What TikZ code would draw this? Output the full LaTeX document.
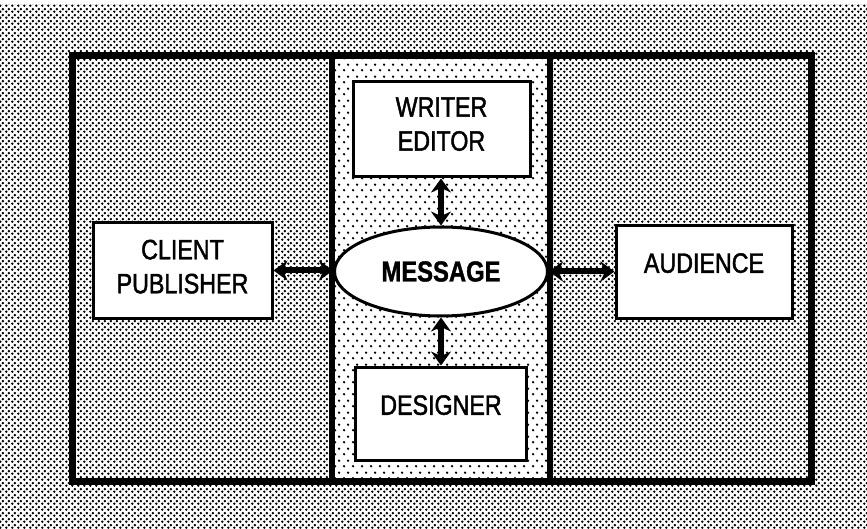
\documentclass[tikz,border=0pt]{standalone}
\usepackage{fontspec}
\setmainfont{Liberation Sans}[FakeStretch=0.83]
\newfontfamily\labelfont{Liberation Sans}[FakeStretch=0.83,FakeBold=1.6]
\newfontfamily\heavyfont{Liberation Sans Bold}[FakeStretch=0.82,FakeBold=1.2]
\usetikzlibrary{arrows.meta,shapes.geometric,patterns}

% staggered dot screens
\pgfdeclarepatternformonly{densedots}{\pgfpointorigin}{\pgfpoint{6pt}{6pt}}{\pgfpoint{6pt}{6pt}}{%
  \pgfpathcircle{\pgfpoint{1.5pt}{1.5pt}}{1.5pt}%
  \pgfpathcircle{\pgfpoint{4.5pt}{4.5pt}}{1.5pt}%
  \pgfusepath{fill}}
\pgfdeclarepatternformonly{sparsedots}{\pgfpointorigin}{\pgfpoint{9pt}{12pt}}{\pgfpoint{9pt}{12pt}}{%
  \pgfpathcircle{\pgfpoint{2.25pt}{3pt}}{1.4pt}%
  \pgfpathcircle{\pgfpoint{6.75pt}{9pt}}{1.4pt}%
  \pgfusepath{fill}}

\tikzset{
  box/.style={draw=black, line width=3pt, fill=white, rectangle, align=center,
    font=\labelfont\fontsize{28}{34}\selectfont, inner sep=0pt},
  msgshape/.style={draw=black, line width=3pt, fill=white, ellipse, inner sep=0pt,
    font=\heavyfont\fontsize{29}{35}\selectfont},
  link/.style={line width=6pt, {Stealth[length=14pt,width=20pt]}-{Stealth[length=14pt,width=20pt]}},
  frame/.style={line width=7pt, draw=black}
}

\begin{document}
\begin{tikzpicture}[x=1pt,y=-1pt]
  \useasboundingbox (0,0) rectangle (867,529);
  % background screens
  \fill[white] (0,0) rectangle (867,529);
  \fill[pattern=densedots] (0,5) rectangle (867,529);
  \fill[white] (332,56) rectangle (550,481);
  \fill[pattern=sparsedots] (332,56) rectangle (550,481);
  % outer frame and column dividers
  \draw[frame] (72,56) rectangle (811,481);
  \draw[line width=6pt] (332,56) -- (332,481);
  \draw[line width=6pt] (550,56) -- (550,481);

  % nodes
  \node[box, minimum width=177pt, minimum height=95pt, text depth=11pt] (writer) at (441.5,129.5) {WRITER\\EDITOR};
  \node[box, minimum width=179pt, minimum height=95pt, text depth=8pt] (client) at (182.5,270.5) {CLIENT\\PUBLISHER};
  \node[box, minimum width=176pt, minimum height=92pt, text depth=18pt] (audience) at (704,272) {AUDIENCE};
  \node[box, minimum width=171pt, minimum height=93pt, text depth=17pt] (designer) at (441,413.5) {DESIGNER};
  \node[msgshape, minimum width=213pt, minimum height=89pt] (msg) at (441,271.5) {MESSAGE};

  % connectors
  \draw[link] (client.east) -- (client.east -| msg.west);
  \draw[link] (msg.east) -- (msg.east -| audience.west);
  \draw[link] (msg.north |- writer.south) -- (msg.north);
  \draw[link] (msg.south) -- (msg.south |- designer.north);
\end{tikzpicture}
\end{document}
